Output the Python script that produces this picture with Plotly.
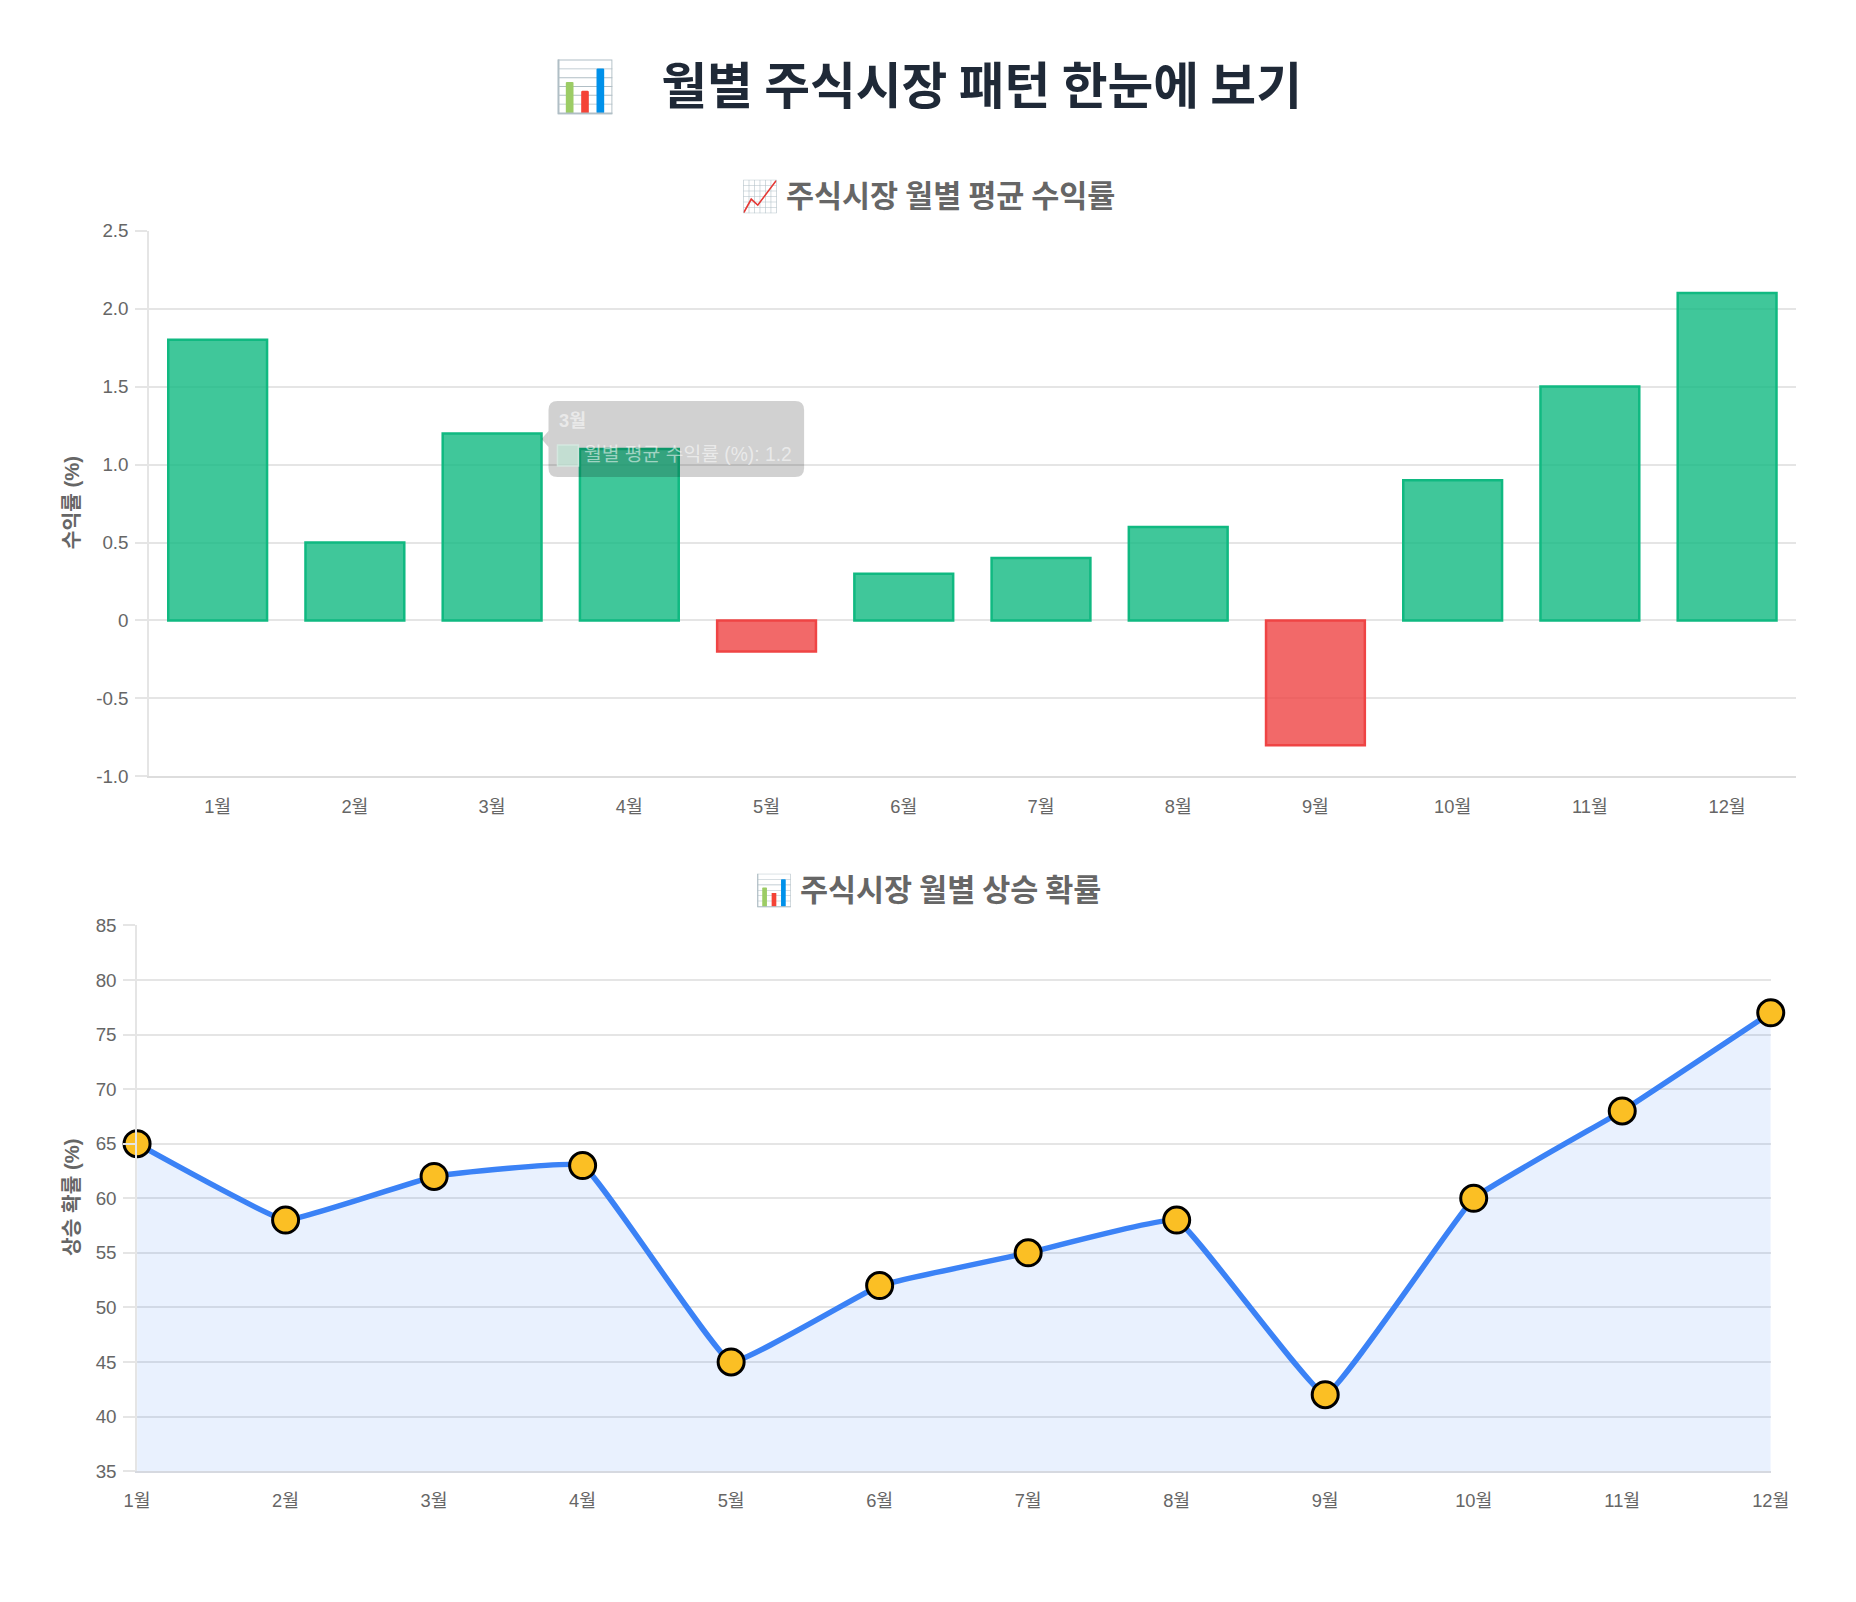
import plotly.graph_objects as go

# Figure sized to fit inside the page's default 8px body margin.
OX, OY = 8, 8
FW, FH = 1840, 1586
# Calibration of the capture (measured from a previous render): target = S * page + B
SX, BX = 0.984, 11.9
SY, BY = 0.9857, 11.6
S = (SX + SY) / 2

months = ["1월", "2월", "3월", "4월", "5월", "6월", "7월", "8월", "9월", "10월", "11월", "12월"]
avg_return = [1.8, 0.5, 1.2, 1.1, -0.2, 0.3, 0.4, 0.6, -0.8, 0.9, 1.5, 2.1]
up_prob = [65, 58, 62, 63, 45, 52, 55, 58, 42, 60, 68, 77]

main_title = "📊\u00a0\u00a0\u00a0\u00a0월별 주식시장 패턴 한눈에 보기"
title1 = "📈 주식시장 월별 평균 수익률"
title2 = "📊 주식시장 월별 상승 확률"
ytitle1 = "수익률 (%)"
ytitle2 = "상승 확률 (%)"
series1_name = "월별 평균 수익률 (%)"
series2_name = "상승 확률 (%)"
y1_ticks = [-1.0, -0.5, 0, 0.5, 1.0, 1.5, 2.0, 2.5]
y1_ticktext = ["-1.0", "-0.5", "0", "0.5", "1.0", "1.5", "2.0", "2.5"]
y2_ticks = [35, 40, 45, 50, 55, 60, 65, 70, 75, 80, 85]
tooltip_idx = 2


def px(x):
    page = (x - BX) / SX
    return (page - OX) / FW


def py(y):
    page = (y - BY) / SY
    return 1 - (page - OY) / FH


def fs(v):
    return round(v / S, 1)


FONT = "Liberation Sans, Arial, Noto Sans CJK KR, sans-serif"
KFONT = "Noto Sans CJK KR, sans-serif"
TICK = "#666666"
GRID = "#e5e5e5"

bar_fill = ["rgba(16,185,129,0.8)" if v >= 0 else "rgba(239,68,68,0.8)" for v in avg_return]
bar_line = ["#10b981" if v >= 0 else "#ef4444" for v in avg_return]

fig = go.Figure()
fig.add_trace(go.Bar(
    x=months, y=avg_return, name=series1_name,
    marker=dict(color=bar_fill, line=dict(color=bar_line, width=2.5)),
    xaxis="x", yaxis="y", showlegend=False, hoverinfo="skip",
))
fig.add_trace(go.Scatter(
    x=months, y=up_prob, name=series2_name, mode="lines+markers",
    line=dict(color="#3b82f6", width=5.5, shape="spline", smoothing=0.25),
    marker=dict(size=26, color="#fbbf24", line=dict(color="#000000", width=3)),
    fill="tozeroy", fillcolor="rgba(59,130,246,0.11)",
    xaxis="x2", yaxis="y2", showlegend=False, hoverinfo="skip", cliponaxis=False,
))


def rounded_rect(x0, y0, x1, y1, r):
    pts = [
        f"M {px(x0 + r)},{py(y0)}",
        f"L {px(x1 - r)},{py(y0)}",
        f"Q {px(x1)},{py(y0)} {px(x1)},{py(y0 + r)}",
        f"L {px(x1)},{py(y1 - r)}",
        f"Q {px(x1)},{py(y1)} {px(x1 - r)},{py(y1)}",
        f"L {px(x0 + r)},{py(y1)}",
        f"Q {px(x0)},{py(y1)} {px(x0)},{py(y1 - r)}",
        f"L {px(x0)},{py(y0 + r)}",
        f"Q {px(x0)},{py(y0)} {px(x0 + r)},{py(y0)}",
        "Z",
    ]
    return " ".join(pts)


shapes = [
    # faded tooltip box
    dict(type="path", xref="paper", yref="paper", layer="above",
         path=rounded_rect(548, 402, 804, 478, 9),
         fillcolor="rgba(0,0,0,0.18)", line=dict(width=0)),
    dict(type="path", xref="paper", yref="paper", layer="above",
         path=f"M {px(548)},{py(432)} L {px(541)},{py(440)} L {px(548)},{py(448)} Z",
         fillcolor="rgba(0,0,0,0.18)", line=dict(width=0)),
    dict(type="rect", xref="paper", yref="paper", layer="above",
         x0=px(557), x1=px(578), y0=py(467), y1=py(446),
         fillcolor="rgba(190,225,210,0.75)", line=dict(color="rgba(215,235,226,0.8)", width=1.5)),
]

annotations = [
    dict(text=f"<b>{main_title}</b>", x=px(928), y=py(83), xref="paper", yref="paper",
         showarrow=False, font=dict(family=KFONT, size=fs(49), color="#1f2937"),
         xanchor="center", yanchor="middle"),
    dict(text=f"<b>{title1}</b>", x=px(928), y=py(195), xref="paper", yref="paper",
         showarrow=False, font=dict(family=KFONT, size=fs(30), color="#666666"),
         xanchor="center", yanchor="middle"),
    dict(text=f"<b>{title2}</b>", x=px(928), y=py(889), xref="paper", yref="paper",
         showarrow=False, font=dict(family=KFONT, size=fs(30), color="#666666"),
         xanchor="center", yanchor="middle"),
    dict(text=f"<b>{ytitle1}</b>", x=px(71), y=py(504), xref="paper", yref="paper",
         showarrow=False, textangle=-90, font=dict(family=FONT, size=fs(20), color="#666666"),
         xanchor="center", yanchor="middle"),
    dict(text=f"<b>{ytitle2}</b>", x=px(71), y=py(1198), xref="paper", yref="paper",
         showarrow=False, textangle=-90, font=dict(family=FONT, size=fs(20), color="#666666"),
         xanchor="center", yanchor="middle"),
    dict(text=f"<b>{months[tooltip_idx]}</b>", x=px(557), y=py(422), xref="paper", yref="paper",
         showarrow=False, font=dict(family=FONT, size=fs(18), color="rgba(255,255,255,0.55)"),
         xanchor="left", yanchor="middle"),
    dict(text=f"{series1_name}: {avg_return[tooltip_idx]}", x=px(582), y=py(456), xref="paper", yref="paper",
         showarrow=False, font=dict(family=FONT, size=fs(19), color="rgba(255,255,255,0.55)"),
         xanchor="left", yanchor="middle"),
]

fig.update_layout(
    width=FW, height=FH,
    margin=dict(l=0, r=0, t=0, b=0),
    paper_bgcolor="#ffffff",
    plot_bgcolor="rgba(0,0,0,0)",
    bargap=0.28,
    font=dict(family=FONT, size=fs(18), color=TICK),
    shapes=shapes,
    annotations=annotations,
    xaxis=dict(domain=[px(148), px(1797)], anchor="y", type="category",
               range=[-0.5, 11.5], showgrid=False, zeroline=False,
               showline=True, linecolor="#dddddd", linewidth=1.5,
               ticks="", tickfont=dict(family=FONT, size=fs(18), color=TICK),
               ticklabelstandoff=13, fixedrange=True),
    yaxis=dict(domain=[py(777), py(232)], anchor="x", range=[-1.0, 2.5],
               tickvals=y1_ticks, ticktext=y1_ticktext,
               showgrid=True, gridcolor=GRID, gridwidth=1.5, zeroline=False,
               showline=True, linecolor=GRID, linewidth=1.5,
               ticks="outside", ticklen=12, tickcolor=GRID, tickwidth=1.5,
               tickfont=dict(family=FONT, size=fs(18.5), color=TICK),
               ticklabelstandoff=3, fixedrange=True),
    xaxis2=dict(domain=[px(136), px(1772)], anchor="y2", type="category",
                range=[0, 11], showgrid=False, zeroline=False,
                showline=True, linecolor="#d6d9e0", linewidth=1.5,
                ticks="", tickfont=dict(family=FONT, size=fs(18), color=TICK),
                ticklabelstandoff=12, fixedrange=True),
    yaxis2=dict(domain=[py(1471), py(926)], anchor="x2", range=[35, 85],
                tickvals=y2_ticks,
                showgrid=True, gridcolor=GRID, gridwidth=1.5, zeroline=False,
                showline=True, linecolor=GRID, linewidth=1.5,
                ticks="outside", ticklen=12, tickcolor=GRID, tickwidth=1.5,
                tickfont=dict(family=FONT, size=fs(18.5), color=TICK),
                ticklabelstandoff=3, fixedrange=True),
)

fig.write_html("out.html", config={"displayModeBar": False})
